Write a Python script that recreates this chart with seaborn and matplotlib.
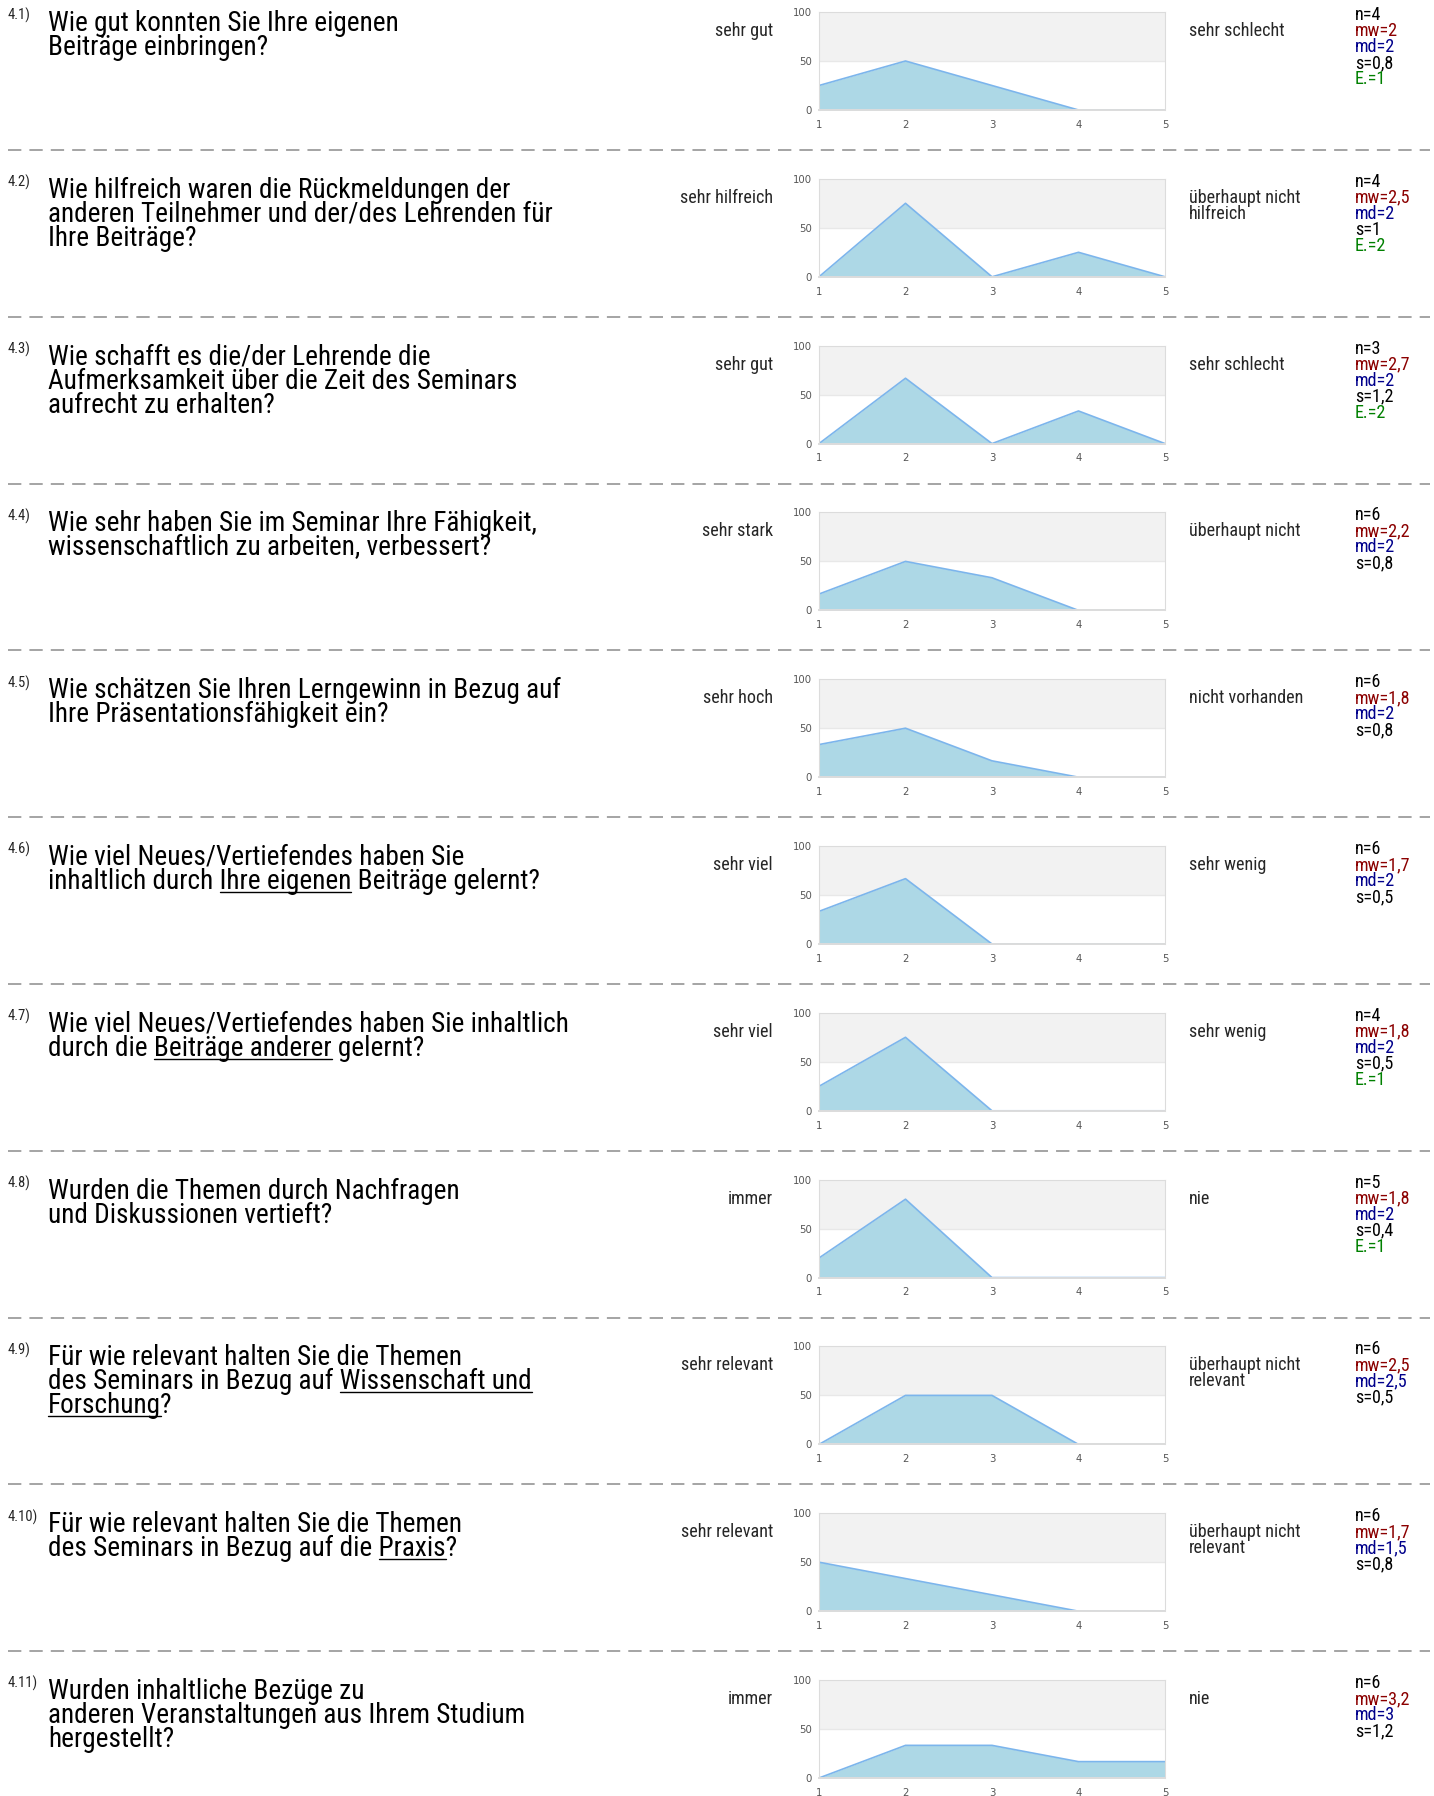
import re
import numpy as np
import pandas as pd
import matplotlib
matplotlib.use("Agg")
import matplotlib.pyplot as plt
from matplotlib.lines import Line2D
import seaborn as sns

# ---------------------------------------------------------------------------
# Survey data: block 4 of the course evaluation
# ---------------------------------------------------------------------------
item_ids = ["4.1)", "4.2)", "4.3)", "4.4)", "4.5)", "4.6)",
            "4.7)", "4.8)", "4.9)", "4.10)", "4.11)"]

# Question wording; parts in [brackets] are underlined
question_lines = [
    ["Wie gut konnten Sie Ihre eigenen", "Beiträge einbringen?"],
    ["Wie hilfreich waren die Rückmeldungen der",
     "anderen Teilnehmer und der/des Lehrenden für", "Ihre Beiträge?"],
    ["Wie schafft es die/der Lehrende die",
     "Aufmerksamkeit über die Zeit des Seminars", "aufrecht zu erhalten?"],
    ["Wie sehr haben Sie im Seminar Ihre Fähigkeit,",
     "wissenschaftlich zu arbeiten, verbessert?"],
    ["Wie schätzen Sie Ihren Lerngewinn in Bezug auf",
     "Ihre Präsentationsfähigkeit ein?"],
    ["Wie viel Neues/Vertiefendes haben Sie",
     "inhaltlich durch [Ihre eigenen] Beiträge gelernt?"],
    ["Wie viel Neues/Vertiefendes haben Sie inhaltlich",
     "durch die [Beiträge anderer] gelernt?"],
    ["Wurden die Themen durch Nachfragen", "und Diskussionen vertieft?"],
    ["Für wie relevant halten Sie die Themen",
     "des Seminars in Bezug auf [Wissenschaft und]", "[Forschung]?"],
    ["Für wie relevant halten Sie die Themen",
     "des Seminars in Bezug auf die [Praxis]?"],
    ["Wurden inhaltliche Bezüge zu",
     "anderen Veranstaltungen aus Ihrem Studium", "hergestellt?"],
]

left_labels = ["sehr gut", "sehr hilfreich", "sehr gut", "sehr stark",
               "sehr hoch", "sehr viel", "sehr viel", "immer",
               "sehr relevant", "sehr relevant", "immer"]
right_labels = ["sehr schlecht", "überhaupt nicht\nhilfreich", "sehr schlecht",
                "überhaupt nicht", "nicht vorhanden", "sehr wenig",
                "sehr wenig", "nie", "überhaupt nicht\nrelevant",
                "überhaupt nicht\nrelevant", "nie"]

n_values = [4, 4, 3, 6, 6, 6, 4, 5, 6, 6, 6]
mw_values = ["2", "2,5", "2,7", "2,2", "1,8", "1,7", "1,8", "1,8", "2,5", "1,7", "3,2"]
md_values = ["2", "2", "2", "2", "2", "2", "2", "2", "2,5", "1,5", "3"]
s_values = ["0,8", "1", "1,2", "0,8", "0,8", "0,5", "0,5", "0,4", "0,5", "0,8", "1,2"]
e_values = [1, 2, 2, None, None, None, 1, 1, None, None, None]

scale_points = [1, 2, 3, 4, 5]

# Share of answers (%) per scale point
pct_4_1 = [25, 50, 25, 0, 0]
pct_4_2 = [0, 75, 0, 25, 0]
pct_4_3 = [0, 66.7, 0, 33.3, 0]
pct_4_4 = [16.7, 50, 33.3, 0, 0]
pct_4_5 = [33.3, 50, 16.7, 0, 0]
pct_4_6 = [33.3, 66.7, 0, 0, 0]
pct_4_7 = [25, 75, 0, 0, 0]
pct_4_8 = [20, 80, 0, 0, 0]
pct_4_9 = [0, 50, 50, 0, 0]
pct_4_10 = [50, 33.3, 16.7, 0, 0]
pct_4_11 = [0, 33.3, 33.3, 16.7, 16.7]
percentages = [pct_4_1, pct_4_2, pct_4_3, pct_4_4, pct_4_5, pct_4_6,
               pct_4_7, pct_4_8, pct_4_9, pct_4_10, pct_4_11]

# ---------------------------------------------------------------------------
# Page setup
# ---------------------------------------------------------------------------
W, H, DPI = 1434, 1796, 100
PITCH = 166.8          # vertical distance between question blocks (px)

sns.set_theme(style="white")
TEXT_FONT = ["Roboto Condensed", "DejaVu Sans"]
TICK_FONT = ["DejaVu Sans"]
plt.rcParams["font.family"] = TEXT_FONT
plt.rcParams["lines.scale_dashes"] = False

fig = plt.figure(figsize=(W / DPI, H / DPI), dpi=DPI)
fig.patch.set_facecolor("white")
renderer = fig.canvas.get_renderer()


def fx(x):
    return x / W


def fy(y):
    return 1 - y / H


def text_width(s, size, family=TEXT_FONT):
    t = fig.text(0, 0, s, fontsize=size, family=family)
    w = t.get_window_extent(renderer).width
    t.remove()
    return w


def fit_size(sample, width_px):
    return 10 * width_px / text_width(sample, 10)


Q_SIZE = fit_size("Wie gut konnten Sie Ihre eigenen", 348)
LABEL_SIZE = fit_size("sehr schlecht", 95)
STAT_SIZE = LABEL_SIZE
ID_SIZE = fit_size("4.10)", 30)

FILL = "#add8e6"
LINE = "#7cb5ec"
STAT_COLORS = {"n": "black", "mw": "#8b0000", "md": "#00008b",
               "s": "black", "E.": "#008000"}


def draw_question(lines, x0, y0, step):
    for i, raw in enumerate(lines):
        plain = re.sub(r"[\[\]]", "", raw)
        yb = y0 + i * step
        fig.text(fx(x0), fy(yb), plain, fontsize=Q_SIZE, va="baseline",
                 ha="left", color="black")
        # underline the bracketed parts
        for m in re.finditer(r"\[([^\]]*)\]", raw):
            before = re.sub(r"[\[\]]", "", raw[:m.start()])
            word = m.group(1)
            if before:
                start = text_width(before + "|", Q_SIZE) - text_width("|", Q_SIZE)
            else:
                start = 0
            end = text_width(before + word, Q_SIZE)
            uy = yb + 3
            fig.add_artist(Line2D([fx(x0 + start), fx(x0 + end)],
                                  [fy(uy), fy(uy)], color="black", lw=1.0))


for k in range(len(item_ids)):
    top = k * PITCH

    fig.text(fx(8), fy(top + 20), item_ids[k], fontsize=ID_SIZE,
             va="baseline", ha="left")
    draw_question(question_lines[k], 48, top + 31, 24)

    fig.text(fx(773), fy(top + 36), left_labels[k], fontsize=LABEL_SIZE,
             ha="right", va="baseline")
    for j, part in enumerate(right_labels[k].split("\n")):
        fig.text(fx(1189), fy(top + 36 + 16 * j), part, fontsize=LABEL_SIZE,
                 ha="left", va="baseline")

    stats = [("n", n_values[k]), ("mw", mw_values[k]), ("md", md_values[k]),
             ("s", s_values[k])]
    if e_values[k] is not None:
        stats.append(("E.", e_values[k]))
    for j, (key, val) in enumerate(stats):
        fig.text(fx(1355), fy(top + 20 + 16 * j), f"{key}={val}",
                 fontsize=STAT_SIZE, color=STAT_COLORS[key],
                 ha="left", va="baseline")

    # distribution chart
    ax = fig.add_axes([fx(819), fy(top + 110), 346 / W, 98 / H])
    df = pd.DataFrame({"Antwort": scale_points, "Prozent": percentages[k]})
    ax.set_facecolor("white")
    ax.axhspan(50, 100, color="#f2f2f2", lw=0, zorder=0)
    ax.axhline(50, color="#e8e8e8", lw=1.0, zorder=0.5)
    ax.fill_between(df["Antwort"], df["Prozent"], 0, color=FILL, lw=0,
                    zorder=1.5)
    sns.lineplot(data=df, x="Antwort", y="Prozent", ax=ax, color=LINE,
                 lw=1.2, zorder=2)
    ax.set_xlim(1, 5)
    ax.set_ylim(0, 100)
    ax.set_xlabel("")
    ax.set_ylabel("")
    ax.set_xticks(scale_points, labels=[str(v) for v in scale_points],
                  family=TICK_FONT)
    ax.set_yticks([0, 50, 100], labels=["0", "50", "100"], family=TICK_FONT)
    ax.tick_params(axis="both", length=0, labelsize=7.3, labelcolor="#555555")
    ax.tick_params(axis="x", pad=7)
    ax.tick_params(axis="y", pad=5)
    for name, sp in ax.spines.items():
        sp.set_color("#dcdcdc")
        sp.set_linewidth(1.4 if name == "bottom" else 0.8)
        sp.set_zorder(2.5)

# dashed separators between the blocks
for k in range(len(item_ids) - 1):
    y = 150 + k * PITCH
    fig.add_artist(Line2D([fx(8), fx(1430)], [fy(y), fy(y)], color="#8c8c8c",
                          lw=1.1, linestyle=(0, (9.6, 5.8))))

fig.savefig("out.png", dpi=DPI, facecolor="white")
